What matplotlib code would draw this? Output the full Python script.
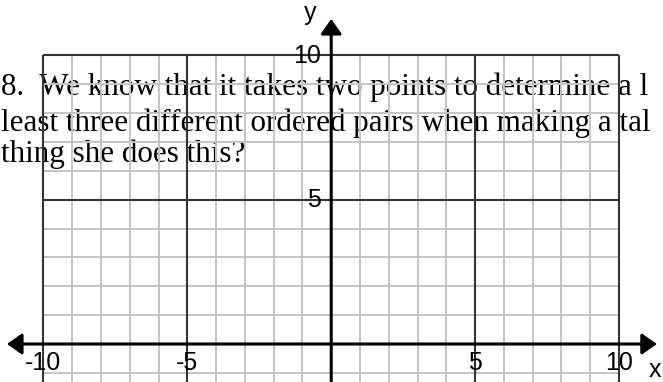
import matplotlib
matplotlib.use("Agg")
import matplotlib.pyplot as plt

# Coordinate grid: x from -10 to 10, y from 10 down past the x-axis
x_ticks = [-10, -5, 5, 10]
x_tick_labels = ["-10", "-5", "5", "10"]
y_ticks = [10, 5]
y_tick_labels = ["10", "5"]
grid_x = list(range(-10, 11))
grid_y = list(range(-1, 11))
major_x = [-10, -5, 5, 10]
major_y = [10, 5]

question_lines = [
    "8.  We know that it takes two points to determine a l",
    "least three different ordered pairs when making a tal",
    "thing she does this?",
]

fig = plt.figure(figsize=(6.63, 3.82), dpi=100)
ax = fig.add_axes([0, 0, 1, 1])
ax.set_xlim(-11.51, 11.53)
ax.set_ylim(-1.316, 11.915)
ax.axis("off")

# Question text underneath the grid
text_x = -11.48
baselines = [8.62, 7.37, 6.30]
for line, yb in zip(question_lines, baselines):
    ax.text(text_x, yb, line, family="Liberation Serif", fontsize=22.4,
            color="black", ha="left", va="baseline", zorder=1)

y_bottom = -1.6
minor_col = "#c4c4c4"
major_col = "#333333"

for gx in grid_x:
    if gx in major_x or gx == 0:
        continue
    ax.plot([gx, gx], [y_bottom, 10], color=minor_col, lw=1.4, zorder=2,
            solid_capstyle="butt")
for gy in grid_y:
    if gy in major_y or gy == 0:
        continue
    ax.plot([-10, 10], [gy, gy], color=minor_col, lw=1.4, zorder=2,
            solid_capstyle="butt")
for gx in major_x:
    ax.plot([gx, gx], [y_bottom, 10], color=major_col, lw=1.5, zorder=3,
            solid_capstyle="butt")
for gy in major_y:
    ax.plot([-10, 10], [gy, gy], color=major_col, lw=1.5, zorder=3,
            solid_capstyle="butt")

# Axes with arrowheads
head = "head_length=0.6,head_width=0.42"
ax.annotate("", xy=(11.32, 0), xytext=(-11.27, 0),
            arrowprops=dict(arrowstyle="<|-|>," + head,
                            mutation_scale=15, color="black", lw=2.2,
                            shrinkA=0, shrinkB=0),
            zorder=4)
ax.annotate("", xy=(0, 11.26), xytext=(0, y_bottom),
            arrowprops=dict(arrowstyle="-|>," + head,
                            mutation_scale=15, color="black", lw=2.2,
                            shrinkA=0, shrinkB=0),
            zorder=4)

label_font = dict(family="Liberation Sans", fontsize=18, color="black", zorder=5)
for xv, lab in zip(x_ticks, x_tick_labels):
    ax.text(xv, -0.90, lab, ha="center", va="baseline", **label_font)
for yv, lab in zip(y_ticks, y_tick_labels):
    ax.text(-0.35, yv - 0.26, lab, ha="right", va="baseline", **label_font)

ax.text(11.25, -1.13, "x", ha="center", va="baseline", **label_font)
ax.text(-0.75, 11.22, "y", ha="center", va="baseline", **label_font)

fig.savefig("out.png", dpi=100)
